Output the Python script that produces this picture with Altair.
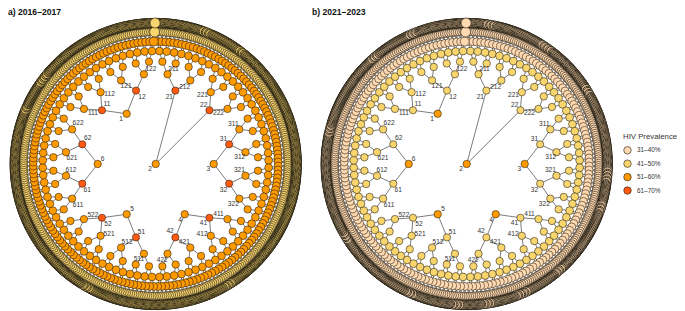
import math
import altair as alt
import pandas as pd

PANEL_TITLES = ["a) 2016\u20132017", "b) 2021\u20132023"]
CATEGORIES = ["31\u201340%", "41\u201350%", "51\u201360%", "61\u201370%"]
COLORS = ["#FFD9B0", "#F9D56E", "#FF9A00", "#FF5A10"]
STROKE = "#1E1A10"

# prevalence class of each tree level (1..8), by panel
LEVEL_CLASS_A = [2, 3, 2, 2, 2, 2, 1, 1]
LEVEL_CLASS_B = [2, 1, 1, 1, 1, 0, 0, 0]
# ring radii of tree levels, node diameters and outlines
LEVEL_RADIUS = [58, 76, 90.5, 102.5, 113, 122.5, 132, 141]
LEVEL_DIAM = [7.4, 7.2, 7.4, 7.4, 7.8, 8, 7.6, 9.2]
LEVEL_OUTLINE = [0.55, 0.55, 0.55, 0.55, 0.55, 0.55, 0.6, 0.88]
N_LEVELS = 8
ROOTS = ["1", "2", "3", "4", "5", "6"]
CENTERED_NODE = "2"
EMPHASIS_NODES = {"122222": 9, "1222222": 10, "12222222": 10}
PANEL_SHIFT = [0, 311]

# stretches of the outer ring where the fill shows through: (clock angle, half width in degrees)
CLUSTERS_A = [(-52, 3), (-66, 2), (22, 2), (38, 2), (150, 2), (-150, 2)]
CLUSTERS_B = [(96, 2.5), (109, 2.5), (140, 2.5), (158, 3), (172, 2), (185, 2), (205, 2), (-120, 2),
              (-40, 2.5), (-22, 2.5), (10, 2), (35, 2.5), (60, 2.5), (-75, 2)]

LABEL_OFFSET = {
    "1": (-5.5, 5), "11": (5, -6), "111": (9, 4.5), "112": (9, 2), "12": (6, 6), "121": (5, 6), "122": (7, -5.4),
    "2": (-5.7, 5.3), "21": (-6, 6.7), "211": (6, -5.7), "212": (-5.7, 6.3), "22": (-5.7, -5.7), "221": (-8.3, 2.3), "222": (-9, 4),
    "3": (-5.3, 5.3), "31": (-5.7, -5.3), "311": (-6, -5.3), "312": (-5.7, 5.3), "32": (-5.7, 6), "321": (-6, -6), "322": (-6, 5.6),
    "4": (-4.7, 5.7), "41": (-6, 5.6), "411": (-9, -4.7), "412": (-8.7, -1.7), "42": (-5.3, -6), "421": (-6, -5.6), "422": (-5.3, 6),
    "5": (5.5, -5), "51": (5.5, -5.6), "511": (-5, 5), "512": (6, -5.3), "52": (6, 6), "521": (8.5, -1.7), "522": (9, -4),
    "6": (5, -5), "61": (5, 6), "611": (6, 6), "612": (5, -5.7), "62": (5.5, -6), "621": (6, 6), "622": (6, -6.5),
}


def build(level_class, clusters, shift):
    nodes, edges = [], []
    current = list(ROOTS)
    pos = {}
    for lev in range(1, N_LEVELS + 1):
        step = 360 / len(current)
        for i, nid in enumerate(current):
            a = math.radians(-60 + (i + 0.5) * step)
            r = LEVEL_RADIUS[lev - 1]
            x, y = shift + r * math.sin(a), r * math.cos(a)
            if nid == CENTERED_NODE:
                x, y = float(shift), 0.0
            pos[nid] = (x, y)
            d = LEVEL_DIAM[lev - 1]
            sw = LEVEL_OUTLINE[lev - 1]
            deg = math.degrees(a)
            # draw clockwise from just past twelve o'clock, so the last disc sits at the top
            rank = lev * 1000 + (deg % 360)
            if lev == 8:
                for c, hw in clusters:
                    off = (deg - c + 180) % 360 - 180
                    if abs(off) < hw and i % 3 == 0:
                        sw = 0.25
            if nid in EMPHASIS_NODES:
                d, rank, sw = EMPHASIS_NODES[nid], 20000 + lev, 0.6
            nodes.append(dict(id=nid, level=lev, rank=rank, x=x, y=y, sw=sw,
                              prev=CATEGORIES[level_class[lev - 1]],
                              size=d * d))
            p = nid[:-1]
            if p:
                edges.append(dict(x=pos[p][0], y=pos[p][1], x2=x, y2=y))
        current = [n + s for n in current for s in "12"]
    df = pd.DataFrame(nodes).sort_values("rank", kind="stable").reset_index(drop=True)
    lab = pd.DataFrame([dict(t=k, x=pos[k][0] + v[0], y=pos[k][1] - v[1]) for k, v in LABEL_OFFSET.items()])
    return df, pd.DataFrame(edges), lab


na, ea, la = build(LEVEL_CLASS_A, CLUSTERS_A, PANEL_SHIFT[0])
nb, eb, lb = build(LEVEL_CLASS_B, CLUSTERS_B, PANEL_SHIFT[1])
nodes = pd.concat([na, nb], ignore_index=True)
edges = pd.concat([ea, eb], ignore_index=True)
labels = pd.concat([la, lb], ignore_index=True)

xs = alt.Scale(domain=[-147.7, 521.3], nice=False, zero=False)
ys = alt.Scale(domain=[-147, 156], nice=False, zero=False)
X = alt.X("x:Q", scale=xs, axis=None)
Y = alt.Y("y:Q", scale=ys, axis=None)

rules = alt.Chart(edges).mark_rule(color="#444444", strokeWidth=0.7).encode(x=X, y=Y, x2="x2:Q", y2="y2:Q")

legend = alt.Legend(orient="none", legendX=615, legendY=125, title="HIV Prevalence", titleFontSize=7.8,
                    titleFont="Liberation Sans", titleFontWeight="normal", titleColor="#333333",
                    labelFontSize=6.4, labelFont="Liberation Sans", labelColor="#333333", padding=0,
                    symbolType="circle", symbolSize=56, symbolStrokeColor=STROKE, symbolStrokeWidth=0.6,
                    rowPadding=2.4, titlePadding=5, labelOffset=5)

dots = alt.Chart(nodes).mark_circle(opacity=1, stroke=STROKE).encode(
    x=X, y=Y,
    size=alt.Size("size:Q", scale=None),
    strokeWidth=alt.StrokeWidth("sw:Q", scale=None),
    fill=alt.Fill("prev:N", scale=alt.Scale(domain=CATEGORIES, range=COLORS), legend=legend),
    order=alt.Order("rank:Q"),
)
texts = alt.Chart(labels).mark_text(fontSize=6.6, font="Liberation Sans", color="#333333").encode(x=X, y=Y, text="t:N")


def head(title, px):
    return alt.Chart(pd.DataFrame({"t": [title]})).mark_text(
        fontSize=8.6, fontWeight="bold", font="Liberation Sans", color="#111111", align="left", baseline="top"
    ).encode(x=alt.value(px), y=alt.value(0), text="t:N")


chart = alt.layer(rules, dots, texts, head(PANEL_TITLES[0], 0), head(PANEL_TITLES[1], 304)).properties(
    width=669, height=303, padding=0, autosize=alt.AutoSizeParams(type="none")
).configure_view(stroke=None)
chart.save("out.html", embed_options={"renderer": "svg", "actions": False})
